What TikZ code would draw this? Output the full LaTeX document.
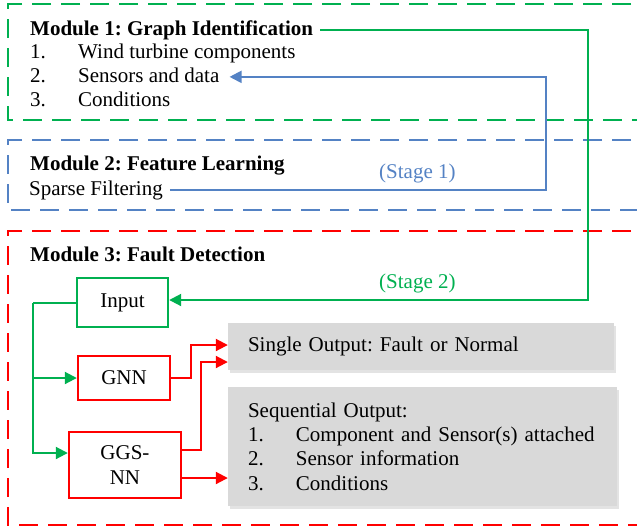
\documentclass[tikz,border=0pt]{standalone}
\usepackage{fontspec}
\setmainfont{Liberation Serif}
\usetikzlibrary{arrows.meta,shadows}
\frenchspacing

\definecolor{modgreen}{RGB}{0,176,80}
\definecolor{modblue}{RGB}{84,130,196}
\definecolor{modred}{RGB}{255,0,0}
\definecolor{outgray}{RGB}{217,217,217}

\newcommand{\basefont}{\fontsize{21}{24.3}\selectfont}
\tikzset{
  modframe/.style={line width=2.4pt, dash pattern=on 19pt off 10pt},
  txt/.style={anchor=base west, inner sep=0pt},
  head/.style={txt, font=\basefont\bfseries},
  netbox/.style={draw, line width=2.4pt, align=center, inner sep=0pt},
  outbox/.style={fill=outgray, align=left, inner xsep=20pt, inner ysep=0pt,
    drop shadow={shadow xshift=2pt, shadow yshift=-2.5pt, opacity=0.22}},
  link/.style={line width=2pt},
  tip/.style={-{Triangle[length=12pt,width=12pt]}},
}
\newcommand{\itm}[2]{\makebox[48pt][l]{#1}#2}

\begin{document}
\begin{tikzpicture}[x=1pt, y=-1pt, font=\basefont]
    \clip (0,0) rectangle (637,531);

    % Module 1
    \draw[modframe, modgreen] (660,4) -- (8,4) -- (8,120) -- (660,120);
    \node[head] (h1) at (30,35) {Module 1: Graph Identification};
    \foreach \i/\t in {1/Wind turbine components, 2/Sensors and data, 3/Conditions} {
        \node[txt] (it\i) at (30,34.5+24*\i) {\itm{\i.}{\t}};
    }

    % Module 2
    \draw[modframe, modblue] (660,140) -- (8,140) -- (8,210) -- (660,210);
    \node[head] (h2) at (30,170.5) {Module 2: Feature Learning};
    \node[txt] (sf) at (29,195) {Sparse Filtering};
    \node[txt, text=modblue] (st1) at (379,178) {(Stage 1)};

    % Module 3
    \draw[modframe, modred] (660,231) -- (8,231) -- (8,525) -- (660,525);
    \node[head] (h3) at (30,261.5) {Module 3: Fault Detection};
    \node[txt, text=modgreen] (st2) at (379,288) {(Stage 2)};

    \node[netbox, draw=modgreen, minimum width=91pt, minimum height=49pt] (inp) at (122.5,302.5) {Input};
    \node[netbox, draw=modred, minimum width=92pt, minimum height=44pt] (gnn) at (124,378) {GNN};
    \node[netbox, draw=modred, minimum width=112pt, minimum height=66pt] (ggs) at (125,465) {GGS-\\NN};

    \node[outbox, minimum width=386pt, minimum height=47pt, text width=346pt] (sgl) at (421,346.5)
        {Single Output: Fault or Normal};
    \node[outbox, minimum width=389pt, minimum height=119pt, text width=349pt] (seq) at (422.5,446.5)
        {Sequential Output:\\ \itm{1.}{Component and Sensor(s) attached}\\
         \itm{2.}{Sensor information}\\ \itm{3.}{Conditions}};

    % stage links
    \coordinate (gx) at (588,0);
    \coordinate (bx) at (546,0);
    \draw[link, modblue, tip] ([xshift=7pt]sf.east) -- (sf.east -| bx) -- ([yshift=-1.5pt]it2.east -| bx)
        -- ([xshift=10pt, yshift=-1.5pt]it2.east);
    \draw[link, modgreen, tip] ([xshift=7pt]h1.east) -- (h1.east -| gx) -- ([yshift=2.5pt]inp.east -| gx)
        -- ([yshift=2.5pt]inp.east);

    % input to networks
    \coordinate (bus) at (33,302.5);
    \draw[link, modgreen] (inp.west) -- (bus);
    \draw[link, modgreen, tip] (bus) |- ([yshift=12pt]ggs.west);
    \draw[link, modgreen, tip] (bus |- gnn.west) -- (gnn.west);

    % networks to outputs
    \draw[link, modred, tip] (gnn.east) -- ++(20,0) |- ([yshift=1.5pt]sgl.west);
    \draw[link, modred, tip] ([yshift=15pt]ggs.east) -- ++(19,0) |- ([yshift=-15.5pt]sgl.west);
    \draw[link, modred, tip] ([yshift=-13pt]ggs.east) -- ([yshift=-13pt]ggs.east -| seq.west);

\end{tikzpicture}
\end{document}
